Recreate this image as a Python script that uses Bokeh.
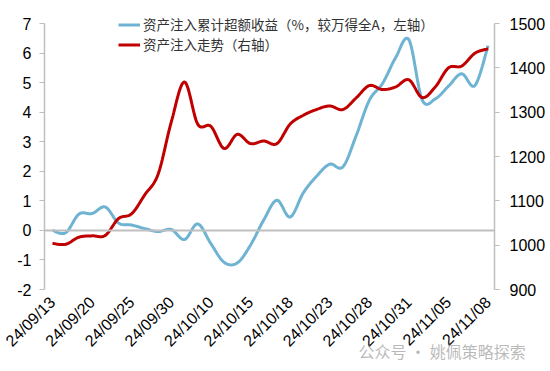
import numpy as np
from bokeh.plotting import figure
from bokeh.models import (Range1d, LinearAxis, FixedTicker, Legend,
                          LegendItem, Label, ColumnDataSource)
from bokeh.embed import file_html
from bokeh.resources import INLINE

# ---------------- data ----------------
dates = ["24/09/13", "24/09/18", "24/09/19", "24/09/20", "24/09/23", "24/09/24",
         "24/09/25", "24/09/26", "24/09/27", "24/09/30", "24/10/08", "24/10/09",
         "24/10/10", "24/10/11", "24/10/14", "24/10/15", "24/10/16", "24/10/17",
         "24/10/18", "24/10/21", "24/10/22", "24/10/23", "24/10/24", "24/10/25",
         "24/10/28", "24/10/29", "24/10/30", "24/10/31", "24/11/01", "24/11/04",
         "24/11/05", "24/11/06", "24/11/07", "24/11/08"]

excess_return = [0.0, -0.08, 0.55, 0.57, 0.79, 0.25, 0.18, 0.06, -0.04, 0.03,
                 -0.31, 0.22, -0.45, -1.08, -1.1, -0.5, 0.35, 1.02, 0.45, 1.27,
                 1.83, 2.24, 2.15, 3.2, 4.4, 4.97, 5.85, 6.45, 4.42, 4.45,
                 4.88, 5.3, 4.9, 6.25]

trend = [1004, 1002, 1018, 1021, 1022, 1060, 1071, 1114, 1160, 1278,
         1368, 1273, 1268, 1218, 1250, 1229, 1235, 1229, 1273, 1293,
         1306, 1314, 1306, 1332, 1360, 1351, 1357, 1373, 1333, 1357,
         1400, 1404, 1433, 1443]

left_ticks = [-2, -1, 0, 1, 2, 3, 4, 5, 6, 7]
right_ticks = [900, 1000, 1100, 1200, 1300, 1400, 1500]
label_step = 3

name_blue = "资产注入累计超额收益（%，较万得全A，左轴）"
name_red = "资产注入走势（右轴）"
watermark = "公众号 · 姚佩策略探索"

BLUE = "#6FB3D2"
RED = "#C00000"
GRAY = "#BFBFBF"
FONT = "Liberation Sans"

# category-axis extent (half-step padding like the reference) in index units
X_LO, X_HI = -0.606, 33.485


def smooth(xs, ys, n=16):
    """Catmull-Rom style Bezier smoothing (like a spreadsheet's smoothed line)."""
    xs = np.asarray(xs, float)
    ys = np.asarray(ys, float)
    px = np.concatenate([[xs[0]], xs, [xs[-1]]])
    py = np.concatenate([[ys[0]], ys, [ys[-1]]])
    ox, oy = [], []
    t = np.linspace(0, 1, n, endpoint=False)
    for i in range(1, len(px) - 2):
        p0x, p1x, p2x, p3x = px[i - 1], px[i], px[i + 1], px[i + 2]
        p0y, p1y, p2y, p3y = py[i - 1], py[i], py[i + 1], py[i + 2]
        c1x, c1y = p1x + (p2x - p0x) / 6, p1y + (p2y - p0y) / 6
        c2x, c2y = p2x - (p3x - p1x) / 6, p2y - (p3y - p1y) / 6
        b0 = (1 - t) ** 3
        b1 = 3 * (1 - t) ** 2 * t
        b2 = 3 * (1 - t) * t ** 2
        b3 = t ** 3
        ox.extend(b0 * p1x + b1 * c1x + b2 * c2x + b3 * p2x)
        oy.extend(b0 * p1y + b1 * c1y + b2 * c2y + b3 * p2y)
    ox.append(xs[-1])
    oy.append(ys[-1])
    return ox, oy


idx = list(range(len(dates)))
bx, by = smooth(idx, excess_return)
rx, ry = smooth(idx, trend)
src_blue = ColumnDataSource(dict(x=bx, y=by))
src_red = ColumnDataSource(dict(x=rx, y=ry))

# ---------------- figure ----------------
# The frame covers the whole canvas (so nothing is clipped); axes are pinned
# with fixed_location and limited with bounds.
p = figure(frame_width=550, frame_height=371, output_backend="svg",
           toolbar_location=None,
           x_range=Range1d(-3.939, 37.727), y_range=Range1d(-4.7744, 7.7782),
           min_border_left=0, min_border_right=0, min_border_top=0,
           min_border_bottom=0)
p.extra_y_ranges = {"right": Range1d(715.04, 1551.88)}
p.outline_line_color = None
p.xgrid.visible = False
p.ygrid.visible = False
p.background_fill_color = "white"
p.border_fill_color = "white"


def style_value_axis(ax, ticks, standoff):
    ax.ticker = FixedTicker(ticks=ticks)
    ax.bounds = (ticks[0], ticks[-1])
    ax.major_label_overrides = {t: str(t) for t in ticks}
    ax.axis_line_color = GRAY
    ax.axis_line_width = 1.5
    ax.major_tick_line_color = GRAY
    ax.major_tick_out = 5
    ax.major_tick_in = 0
    ax.minor_tick_line_color = None
    ax.major_label_text_font = FONT
    ax.major_label_text_font_size = "16px"
    ax.major_label_text_color = "black"
    ax.major_label_standoff = standoff
    ax.axis_label_standoff = 0


# left axis
ya = p.yaxis[0]
ya.fixed_location = X_LO
style_value_axis(ya, left_ticks, 8)

# right axis
ra = LinearAxis(y_range_name="right")
ra.fixed_location = X_HI
style_value_axis(ra, right_ticks, 10)
p.add_layout(ra, "right")

# category axis labels (every 3rd trading day) under the value span
xa = p.xaxis[0]
xa.fixed_location = left_ticks[0]
tick_idx = idx[::label_step]
xa.ticker = FixedTicker(ticks=tick_idx)
xa.major_label_overrides = {i: dates[i] for i in tick_idx}
xa.major_label_orientation = np.pi / 4
xa.axis_line_color = None
xa.major_tick_line_color = None
xa.major_tick_out = 0
xa.major_tick_in = 0
xa.minor_tick_line_color = None
xa.major_label_text_font = FONT
xa.major_label_text_font_size = "16px"
xa.major_label_text_color = "black"
xa.major_label_standoff = 10
xa.axis_label_standoff = 0

# category axis line itself sits at value 0
x0 = LinearAxis(fixed_location=0, ticker=FixedTicker(ticks=[]),
                bounds=(X_LO, X_HI), axis_line_color=GRAY, axis_line_width=2,
                major_tick_line_color=None, minor_tick_line_color=None,
                major_label_text_alpha=0, axis_label_standoff=0)
p.add_layout(x0, "below")

r_blue = p.line("x", "y", source=src_blue, line_color=BLUE, line_width=3)
r_red = p.line("x", "y", source=src_red, line_color=RED, line_width=3,
               y_range_name="right")

# legend: one entry per box so each row sits where the reference has it
common = dict(orientation="vertical", padding=0, margin=0, spacing=0,
              glyph_width=22, glyph_height=17, label_height=17,
              label_standoff=3, label_text_font="Noto Sans CJK SC",
              label_text_font_size="13.5px", label_text_color="#333333",
              border_line_color=None, background_fill_alpha=0)
leg1 = Legend(items=[LegendItem(label=name_blue, renderers=[r_blue])],
              location=(118, 337), **common)
leg2 = Legend(items=[LegendItem(label=name_red, renderers=[r_red])],
              location=(118, 317), **common)
p.add_layout(leg1, "center")
p.add_layout(leg2, "center")

# watermark
p.add_layout(Label(x=358, y=21, x_units="screen", y_units="screen",
                   text=watermark, text_font="Noto Sans CJK SC",
                   text_font_size="16px", text_color="#9A9A9A", text_alpha=0.7,
                   text_baseline="middle", text_align="left", level="overlay"))

open("out.html", "w").write(file_html(p, INLINE))
